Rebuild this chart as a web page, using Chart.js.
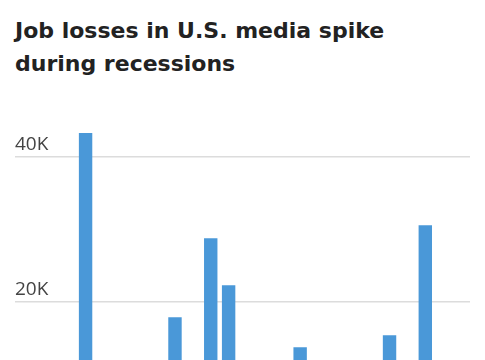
<!DOCTYPE html>
<html lang="en">
<head>
<meta charset="UTF-8" />
<title>Job losses in U.S. media</title>
<style>
  body {
    margin: 0;
    background: #fff;
    font-family: "Open Sans", Arial, sans-serif;
    width: 485px;
    height: 360px;
    overflow: hidden;
    position: relative;
  }
  h1 {
    position: absolute;
    top: 14px;
    left: 15px;
    margin: 0;
    font-family: "DejaVu Sans", sans-serif;
    font-size: 22px;
    line-height: 33px;
    font-weight: 700;
    color: #222;
  }
  #chart-box {
    position: absolute;
    top: 118px;
    left: 0;
    width: 485px;
    height: 359px;
  }
</style>
</head>
<body>
  <h1>Job losses in U.S. media spike<br>during recessions</h1>
  <div id="chart-box">
    <canvas id="lossChart"></canvas>
  </div>

  <script src="https://cdn.jsdelivr.net/npm/chart.js"></script>
  <script>
    // Years on the x axis
    const years = ['1998', '1999', '2000', '2001', '2002', '2003', '2004', '2005', '2006', '2007',
      '2008', '2009', '2010', '2011', '2012', '2013', '2014', '2015', '2016', '2017',
      '2018', '2019', '2020', '2021', '2022'];
    // Media job cuts per year (years below ~12K are cut off in the picture, estimated)
    const jobLosses = [3000, 4000, 8000, 43300, 9000, 6000, 5000, 7000, 17900, 11000,
      28800, 22300, 4000, 9000, 6000, 13750, 8000, 5000, 8000, 9000,
      15400, 7000, 30600, 2000, 5000];
    const yTicks = [0, 20000, 40000];
    const yMax = 44000;

    const ctx = document.getElementById('lossChart').getContext('2d');

    new Chart(ctx, {
      type: 'bar',
      data: {
        labels: years,
        datasets: [{
          label: 'Job losses',
          data: jobLosses,
          backgroundColor: '#4a98d8',
          barPercentage: 0.75,
          categoryPercentage: 1
        }]
      },
      options: {
        responsive: true,
        maintainAspectRatio: false,
        animation: false,
        layout: { padding: { top: 10, left: 0, right: 15, bottom: 0 } },
        plugins: {
          legend: { display: false },
          tooltip: { enabled: false }
        },
        scales: {
          x: {
            grid: { display: false },
            border: { display: false },
            ticks: {
              color: '#555',
              font: { family: 'Open Sans', size: 14 },
              maxRotation: 0,
              callback: function (val, i) {
                const y = years[i];
                return Number(y) % 5 === 0 ? y : '';
              }
            },
            afterFit: scale => { scale.height = 30; }
          },
          y: {
            min: 0,
            max: yMax,
            border: { display: false },
            grid: {
              color: '#dcdcdc',
              lineWidth: 1.5,
              tickLength: 8
            },
            afterBuildTicks: scale => {
              scale.ticks = yTicks.map(v => ({ value: v }));
            },
            afterFit: scale => { scale.width = 23; },
            ticks: {
              mirror: true,
              padding: -8,
              labelOffset: -12,
              color: '#444',
              font: { family: 'Open Sans', size: 19 },
              callback: v => (v === 0 ? '0' : (v / 1000) + 'K')
            }
          }
        }
      }
    });
  </script>
</body>
</html>
